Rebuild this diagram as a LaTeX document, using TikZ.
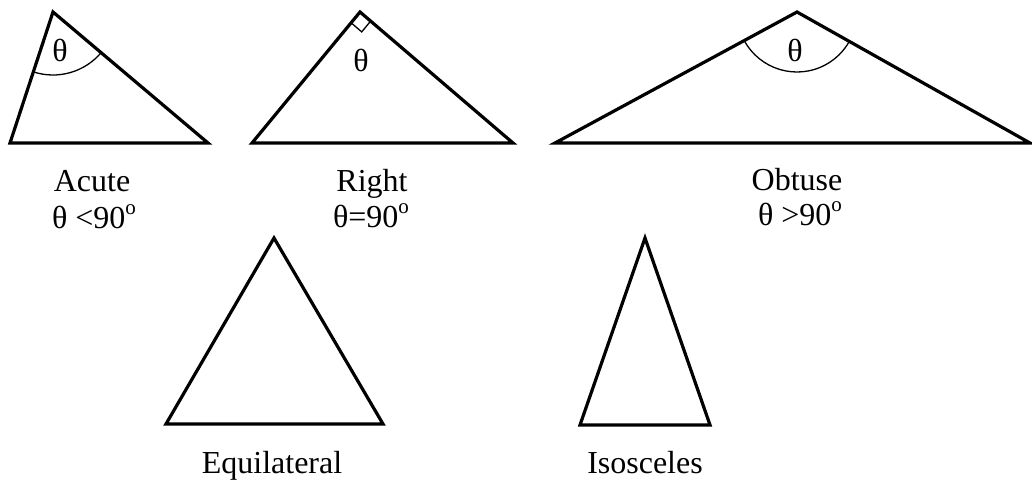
\documentclass[tikz,border=0pt]{standalone}
\usepackage{fontspec}
\setmainfont{Liberation Serif}
\usetikzlibrary{angles}
\newcommand{\degsup}{\raisebox{0.42em}{\fontsize{21}{21}\selectfont o}}

\begin{document}
\begin{tikzpicture}[x=1pt,y=1pt,
  tri/.style={draw,line width=3.2pt,line join=miter},
  lb/.style={anchor=base,font=\fontsize{32}{38}\selectfont,inner sep=0pt},
  th/.style={font=\fontsize{32}{38}\selectfont,inner sep=0pt},
  ang/.style={draw,line width=1.3pt,angle radius=#1}]
  \useasboundingbox (0,0) rectangle (1032,483);
  % vertices
  \coordinate (a1) at (53,471);  \coordinate (a2) at (10,340);  \coordinate (a3) at (208,340);
  \coordinate (r1) at (360,471); \coordinate (r2) at (252,340); \coordinate (r3) at (513,340);
  \coordinate (o1) at (797,471); \coordinate (o2) at (555,340); \coordinate (o3) at (1030,340);
  \coordinate (e1) at (274,245); \coordinate (e2) at (166,59);  \coordinate (e3) at (383,59);
  \coordinate (i1) at (645,245); \coordinate (i2) at (580,58);  \coordinate (i3) at (710,58);
  \foreach \t in {a,r,o,e,i} \draw[tri] (\t1) -- (\t2) -- (\t3) -- cycle;
  % angles
  \pic[ang=63pt] {angle=a2--a1--a3};
  \pic[ang=14pt] {right angle=r2--r1--r3};
  \pic[ang=60pt] {angle=o2--o1--o3};
  \node[th] (tha) at (60,433) {θ};
  \node[th] (thr) at (361,423) {θ};
  \node[th] (tho) at (795,433) {θ};
  % labels
  \node[lb] (acute) at (92,292) {Acute};
  \node[lb] (acutev) at (94,255) {θ <90\degsup};
  \node[lb] (right) at (372,292) {Right};
  \node[lb] (rightv) at (371,256) {θ=90\degsup};
  \node[lb] (obtuse) at (797,293) {Obtuse};
  \node[lb] (obtusev) at (800,258) {θ >90\degsup};
  \node[lb] (equi) at (272,10) {Equilateral};
  \node[lb] (isos) at (645,10) {Isosceles};
\end{tikzpicture}
\end{document}
